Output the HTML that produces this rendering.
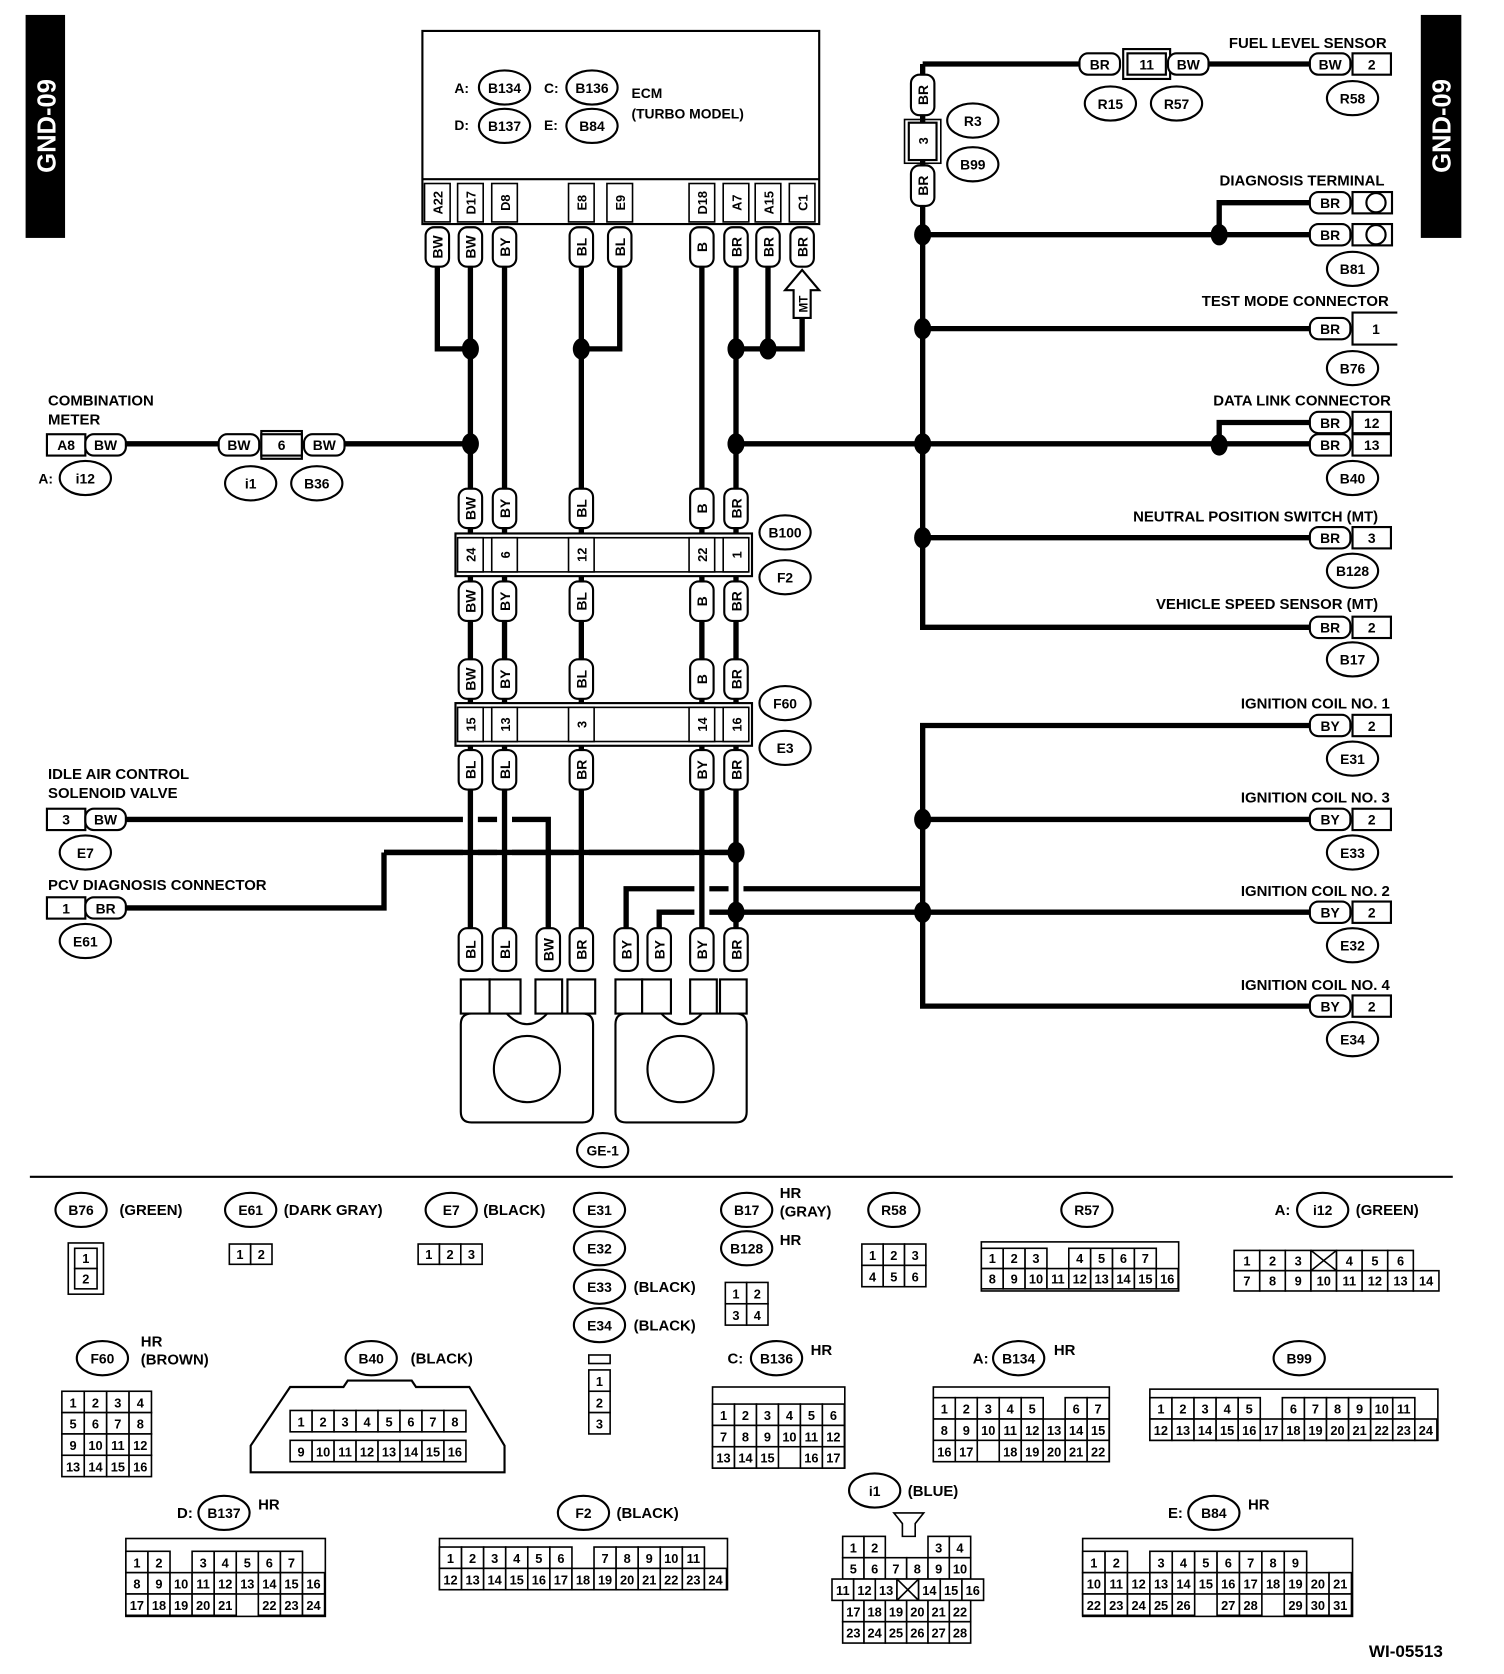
<!DOCTYPE html>
<html><head><meta charset="utf-8"><style>
html,body{margin:0;padding:0;background:#fff}
svg{display:block}
text{font-family:"Liberation Sans",Arial,sans-serif;font-weight:bold;fill:#000}
</style></head><body>
<svg id="s" xmlns="http://www.w3.org/2000/svg" width="1504" height="1674" viewBox="0 0 1410 1569" preserveAspectRatio="none">
<rect width="1410" height="1569" fill="#fff"/>
</svg>
<script>
var S=document.getElementById('s'),out='';
function a(s){out+=s;}
function T(x,y,t,sz,anc,rot){sz=sz||13;anc=anc||'start';
 a('<text x="'+x+'" y="'+y+'" font-size="'+sz+'" text-anchor="'+anc+'"'+(rot?' transform="rotate(-90 '+x+' '+y+')"':'')+'>'+t+'</text>');}
function W(pts,w){a('<polyline points="'+pts+'" fill="none" stroke="#000" stroke-width="'+(w||5)+'" stroke-linejoin="miter"/>');}
function Wh(pts){a('<polyline points="'+pts+'" fill="none" stroke="#fff" stroke-width="14"/>');W(pts);}
function D(x,y){a('<ellipse cx="'+x+'" cy="'+y+'" rx="8" ry="10" fill="#000"/>');}
function O(cx,cy,t,rx){rx=rx||24;a('<ellipse cx="'+cx+'" cy="'+cy+'" rx="'+rx+'" ry="16" fill="#fff" stroke="#000" stroke-width="2"/>');T(cx,cy+5,t,13,'middle');}
function R(x,y,w,h,sw,f){a('<rect x="'+x+'" y="'+y+'" width="'+w+'" height="'+h+'" fill="'+(f||'#fff')+'" stroke="#000" stroke-width="'+(sw||2)+'"/>');}
function VT(x,y1,y2,t){a('<rect x="'+(x-11)+'" y="'+y1+'" width="22" height="'+(y2-y1)+'" rx="8" fill="#fff" stroke="#000" stroke-width="2"/>');T(x+5,(y1+y2)/2,t,13,'middle',1);}
function HT(x1,y,t,w){w=w||38;a('<rect x="'+x1+'" y="'+(y-10)+'" width="'+w+'" height="20" rx="8" fill="#fff" stroke="#000" stroke-width="2"/>');T(x1+w/2,y+5,t,13,'middle');}
function B(x1,y,t,w){R(x1,y-10,w||36,20);T(x1+(w||36)/2,y+5,t,13,'middle');}
function grid(x,y,cw,ch,rows){rows.forEach(function(r,i){var cx=x;r.forEach(function(c){if(c===null){cx+=cw;return;}
 R(cx,y+i*ch,cw,ch,1.5);if(c==='X'){a('<line x1="'+cx+'" y1="'+(y+i*ch)+'" x2="'+(cx+cw)+'" y2="'+(y+i*ch+ch)+'" stroke="#000" stroke-width="1.5"/><line x1="'+(cx+cw)+'" y1="'+(y+i*ch)+'" x2="'+cx+'" y2="'+(y+i*ch+ch)+'" stroke="#000" stroke-width="1.5"/>');}
 else T(cx+cw/2,y+i*ch+ch-5,c,12,'middle');cx+=cw;});});}
function rng(a1,b1){var r=[];for(var i=a1;i<=b1;i++)r.push(''+i);return r;}

R(25,15,35,207,0,'#000');a('<text x="52" y="118" font-size="24" text-anchor="middle" style="fill:#fff" transform="rotate(-90 52 118)">GND-09</text>');
R(1333,15,36,207,0,'#000');a('<text x="1360" y="118" font-size="24" text-anchor="middle" style="fill:#fff" transform="rotate(-90 1360 118)">GND-09</text>');

R(396,29,372,181);a('<line x1="396" y1="168" x2="768" y2="168" stroke="#000" stroke-width="2"/>');
T(426,87,'A:');O(473,82,'B134');T(510,87,'C:');O(555,82,'B136');
T(426,122,'D:');O(473,118,'B137');T(510,122,'E:');O(555,118,'B84');
T(592,92,'ECM');T(592,111,'(TURBO MODEL)');
var pins=[[410,'A22'],[441,'D17'],[473,'D8'],[545,'E8'],[581,'E9'],[658,'D18'],[690,'A7'],[720,'A15'],[752,'C1']];
pins.forEach(function(p){R(p[0]-12,172,24,36,1.5);T(p[0]+5,190,p[1],12,'middle',1);});
var wl=['BW','BW','BY','BL','BL','B','BR','BR','BR'];
W('410,250 410,327 441,327');W('441,250 441,870');W('473,250 473,870');W('545,250 545,870');W('581,250 581,327 545,327');
W('658,250 658,870');W('690,250 690,870');W('720,250 720,327');W('752,298 752,327 690,327');
W('118,416 205,416');W('323,416 441,416');W('690,416 1228,416');
W('118,768 514,768 514,870');W('360,799 690,799');W('118,851 360,851 360,799');
W('587,870 587,833 865,833');W('618,870 618,855 1228,855');
Wh('441,740 441,870');Wh('473,740 473,870');Wh('545,740 545,870');Wh('658,740 658,870');Wh('690,740 690,870');
W('360,799 690,799');D(690,799);
W('865,60 865,588 1228,588');W('865,60 1012,60');W('1133,60 1228,60');
W('865,220 1228,220');W('1143,220 1143,190 1228,190');W('865,308 1228,308');
W('1143,417 1143,396 1228,396');W('865,504 1228,504');
W('1228,680 865,680 865,943 1228,943');W('865,768 1228,768');
[[441,327],[545,327],[690,327],[720,327],[441,416],[690,416],[865,220],[1143,220],[865,308],[865,416],[1143,417],[865,504],[865,768],[865,855],[690,855]].forEach(function(d){D(d[0],d[1]);});
pins.forEach(function(p,i){VT(p[0],213,250,wl[i]);});
a('<polygon points="752,253 768,272 760,272 760,298 744,298 744,272 736,272" fill="#fff" stroke="#000" stroke-width="2"/>');T(757,285,'MT',11,'middle',1);
T(45,380,'COMBINATION',14);T(45,398,'METER',14);B(44,417,'A8');HT(80,417,'BW');T(36,453,'A:');O(80,448,'i12');
HT(205,417,'BW');a('<rect x="245" y="404" width="38" height="26" fill="none" stroke="#000" stroke-width="2"/>');B(245,417,'6',38);HT(285,417,'BW');
O(235,453,'i1');O(297,453,'B36');
var cc=[441,473,545,658,690];
function tags(y1,y2,l){cc.forEach(function(x,i){VT(x,y1,y2,l[i]);});}
tags(458,495,['BW','BY','BL','B','BR']);
R(427,500,278,40);R(431,504,270,32,1.5);
[['24',441],['6',473],['12',545],['22',658],['1',690]].forEach(function(p){R(p[1]-12,504,24,32,1.5);T(p[1]+5,520,p[0],12,'middle',1);});
O(736,499,'B100');O(736,541,'F2');
tags(545,582,['BW','BY','BL','B','BR']);
tags(618,655,['BW','BY','BL','B','BR']);
R(427,659,278,40);R(431,663,270,32,1.5);
[['15',441],['13',473],['3',545],['14',658],['16',690]].forEach(function(p){R(p[1]-12,663,24,32,1.5);T(p[1]+5,679,p[0],12,'middle',1);});
O(736,659,'F60');O(736,701,'E3');
tags(703,740,['BL','BL','BR','BY','BR']);
T(45,730,'IDLE AIR CONTROL',14);T(45,748,'SOLENOID VALVE',14);B(44,768,'3');HT(80,768,'BW');O(80,799,'E7');
T(45,834,'PCV DIAGNOSIS CONNECTOR',14);B(44,851,'1');HT(80,851,'BR');O(80,882,'E61');
[[441,'BL'],[473,'BL'],[514,'BW'],[545,'BR'],[587,'BY'],[618,'BY'],[658,'BY'],[690,'BR']].forEach(function(p){VT(p[0],870,910,p[1]);});
[[432,459],[459,488],[502,527],[532,558],[577,602],[602,629],[647,672],[675,700]].forEach(function(p){R(p[0],918,p[1]-p[0],32,2);});
a('<path d="M442,950 L475,950 Q494,970 513,950 L546,950 Q556,950 556,960 L556,1042 Q556,1052 546,1052 L442,1052 Q432,1052 432,1042 L432,960 Q432,950 442,950 Z" fill="#fff" stroke="#000" stroke-width="2"/>');
a('<path d="M587,950 L620,950 Q639,970 658,950 L690,950 Q700,950 700,960 L700,1042 Q700,1052 690,1052 L587,1052 Q577,1052 577,1042 L577,960 Q577,950 587,950 Z" fill="#fff" stroke="#000" stroke-width="2"/>');
a('<circle cx="494" cy="1002" r="31" fill="none" stroke="#000" stroke-width="2"/><circle cx="638" cy="1002" r="31" fill="none" stroke="#000" stroke-width="2"/>');
O(565,1078,'GE-1');
VT(865,70,108,'BR');R(852,115,26,35);T(870,132,'3',12,'middle',1);a('<rect x="848" y="112" width="34" height="41" fill="none" stroke="#000" stroke-width="1.5"/>');VT(865,155,193,'BR');
O(912,113,'R3');O(912,154,'B99');
T(1300,45,'FUEL LEVEL SENSOR',14,'end');HT(1012,60,'BR');a('<rect x="1053" y="46" width="44" height="28" fill="none" stroke="#000" stroke-width="2"/>');B(1057,60,'11',36);HT(1095,60,'BW');
HT(1228,60,'BW');B(1268,60,'2');O(1041,97,'R15');O(1103,97,'R57');O(1268,92,'R58');
T(1298,174,'DIAGNOSIS TERMINAL',14,'end');HT(1228,190,'BR');HT(1228,220,'BR');
R(1268,180,37,20);R(1268,210,37,20);a('<circle cx="1290" cy="190" r="9" fill="none" stroke="#000" stroke-width="2"/><circle cx="1290" cy="220" r="9" fill="none" stroke="#000" stroke-width="2"/>');O(1268,252,'B81');
T(1302,287,'TEST MODE CONNECTOR',14,'end');HT(1228,308,'BR');a('<polyline points="1310,293 1268,293 1268,323 1310,323" fill="none" stroke="#000" stroke-width="2"/>');T(1290,313,'1',13,'middle');O(1268,345,'B76');
T(1304,380,'DATA LINK CONNECTOR',14,'end');HT(1228,396,'BR');HT(1228,417,'BR');B(1268,396,'12');B(1268,417,'13');O(1268,448,'B40');
T(1292,489,'NEUTRAL POSITION SWITCH (MT)',14,'end');HT(1228,504,'BR');B(1268,504,'3');O(1268,535,'B128');
T(1292,571,'VEHICLE SPEED SENSOR (MT)',14,'end');HT(1228,588,'BR');B(1268,588,'2');O(1268,618,'B17');
[[680,664,'IGNITION COIL NO. 1','E31'],[768,752,'IGNITION COIL NO. 3','E33'],[855,840,'IGNITION COIL NO. 2','E32'],[943,928,'IGNITION COIL NO. 4','E34']].forEach(function(c){
 T(1303,c[1],c[2],14,'end');HT(1228,c[0],'BY');B(1268,c[0],'2');O(1268,c[0]+31,c[3]);});
a('<line x1="28" y1="1103" x2="1362" y2="1103" stroke="#000" stroke-width="2"/>');
O(76,1134,'B76');T(112,1139,'(GREEN)',14);R(64,1165,33,48,1.5);grid(70,1170,21,19,[['1'],['2']]);
O(235,1134,'E61');T(266,1139,'(DARK GRAY)',14);grid(215,1166,20,19,[['1','2']]);
O(423,1134,'E7');T(453,1139,'(BLACK)',14);grid(392,1166,20,19,[['1','2','3']]);
O(562,1134,'E31');O(562,1170,'E32');O(562,1206,'E33');T(594,1211,'(BLACK)',14);O(562,1242,'E34');T(594,1247,'(BLACK)',14);
R(552,1270,20,8,1.5);grid(552,1284,20,20,[['1'],['2'],['3']]);
O(700,1134,'B17');T(731,1123,'HR',14);T(731,1140,'(GRAY)',14);O(700,1170,'B128');T(731,1167,'HR',14);
grid(680,1202,20,20,[['1','2'],['3','4']]);
O(838,1134,'R58');grid(808,1166,20,20,[['1','2','3'],['4','5','6']]);
O(1019,1134,'R57');R(920,1164,185,46,1.5);grid(920,1170,20.5,19,[['1','2','3',null,'4','5','6','7'],rng(8,16)]);
T(1195,1139,'A:',14);O(1240,1134,'i12');T(1271,1139,'(GREEN)',14);grid(1157,1172,24,19,[['1','2','3','X','4','5','6'],rng(7,14)]);
O(96,1273,'F60');T(132,1262,'HR',14);T(132,1279,'(BROWN)',14);grid(58,1304,21,20,[rng(1,4),rng(5,8),rng(9,12),rng(13,16)]);
O(348,1273,'B40');T(385,1278,'(BLACK)',14);
a('<path d="M272,1300 L322,1300 L326,1294 L386,1294 L390,1300 L440,1300 L473,1355 L473,1380 L235,1380 L235,1355 Z" fill="#fff" stroke="#000" stroke-width="2"/>');
grid(272,1322,20.6,20,[rng(1,8)]);grid(272,1350,20.6,20,[rng(9,16)]);
T(682,1278,'C:',14);O(728,1273,'B136');T(760,1270,'HR',14);R(668,1300,124,76,1.5);grid(668,1316,20.6,20,[rng(1,6),rng(7,12),['13','14','15',null,'16','17']]);
T(912,1278,'A:',14);O(955,1273,'B134');T(988,1270,'HR',14);R(875,1300,165,70,1.5);grid(875,1310,20.6,20,[['1','2','3','4','5',null,'6','7'],rng(8,15),['16','17',null,'18','19','20','21','22']]);
O(1218,1273,'B99');R(1078,1302,270,48,1.5);grid(1078,1310,20.7,20,[['1','2','3','4','5',null,'6','7','8','9','10','11'],rng(12,24)]);
T(166,1423,'D:',14);O(210,1418,'B137');T(242,1415,'HR',14);R(118,1442,187,73,1.5);grid(118,1454,20.7,20,[['1','2',null,'3','4','5','6','7'],rng(8,16),['17','18','19','20','21',null,'22','23','24']]);
O(547,1418,'F2');T(578,1423,'(BLACK)',14);R(412,1442,270,48,1.5);grid(412,1450,20.7,20,[['1','2','3','4','5','6',null,'7','8','9','10','11'],rng(12,24)]);
O(820,1397,'i1');T(851,1402,'(BLUE)',14);a('<polygon points="838,1418 866,1418 858,1428 858,1440 846,1440 846,1428" fill="#fff" stroke="#000" stroke-width="1.5"/>');
grid(790,1440,20,20,[['1','2',null,null,'3','4'],rng(5,10)]);grid(780,1480,20.3,20,[['11','12','13','X','14','15','16']]);grid(790,1500,20,20,[rng(17,22),rng(23,28)]);
T(1095,1423,'E:',14);O(1138,1418,'B84');T(1170,1415,'HR',14);R(1015,1442,253,73,1.5);grid(1015,1454,21,20,[['1','2',null,'3','4','5','6','7','8','9'],rng(10,21),['22','23','24','25','26',null,'27','28',null,'29','30','31']]);
T(1318,1553,'WI-05513',16,'middle');
S.insertAdjacentHTML('beforeend',out);
</script>
</body></html>
